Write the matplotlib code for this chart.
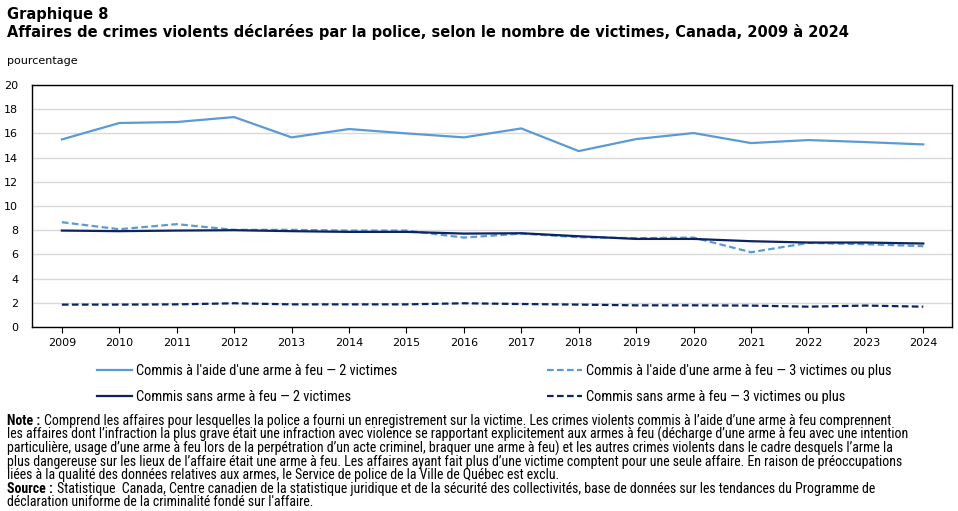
import numpy as np
import matplotlib
matplotlib.use("Agg")
import matplotlib.pyplot as plt

years = list(range(2009, 2025))

arme_2 = [15.5, 16.86, 16.94, 17.35, 15.67, 16.36, 16.0, 15.67,
          16.41, 14.54, 15.53, 16.03, 15.2, 15.45, 15.28, 15.09]
arme_3plus = [8.66, 8.08, 8.5, 8.03, 8.03, 7.97, 7.97, 7.39,
              7.72, 7.42, 7.34, 7.39, 6.18, 6.95, 6.84, 6.68]
sans_2 = [7.97, 7.92, 7.97, 8.0, 7.92, 7.86, 7.86, 7.72,
          7.75, 7.5, 7.28, 7.28, 7.09, 6.98, 6.98, 6.9]
sans_3plus = [1.85, 1.85, 1.87, 1.96, 1.87, 1.87, 1.87, 1.96,
              1.9, 1.85, 1.79, 1.79, 1.77, 1.68, 1.77, 1.68]

labels = ["Commis à l'aide d'une arme à feu — 2 victimes",
          "Commis à l'aide d'une arme à feu — 3 victimes ou plus",
          "Commis sans arme à feu — 2 victimes",
          "Commis sans arme à feu — 3 victimes ou plus"]

note_lines = [
    "Comprend les affaires pour lesquelles la police a fourni un enregistrement sur la victime. Les crimes violents commis à l’aide d’une arme à feu comprennent",
    "les affaires dont l’infraction la plus grave était une infraction avec violence se rapportant explicitement aux armes à feu (décharge d’une arme à feu avec une intention",
    "particulière, usage d’une arme à feu lors de la perpétration d’un acte criminel, braquer une arme à feu) et les autres crimes violents dans le cadre desquels l’arme la",
    "plus dangereuse sur les lieux de l’affaire était une arme à feu. Les affaires ayant fait plus d’une victime comptent pour une seule affaire. En raison de préoccupations",
    "liées à la qualité des données relatives aux armes, le Service de police de la Ville de Québec est exclu.",
]
source_lines = [
    "Statistique  Canada, Centre canadien de la statistique juridique et de la sécurité des collectivités, base de données sur les tendances du Programme de",
    "déclaration uniforme de la criminalité fondé sur l'affaire.",
]

light = "#5b9bd5"
dark = "#0c2461"
narrow = ["Roboto Condensed", "DejaVu Sans"]

W, H = 958, 511
fig = plt.figure(figsize=(W / 100, H / 100), dpi=100)
ax = fig.add_axes([32 / W, 1 - 327 / H, 920 / W, 242 / H])

l1, = ax.plot(years, arme_2, color=light, lw=1.6)
l2, = ax.plot(years, arme_3plus, color=light, lw=1.6, ls=(0, (3, 1.5)))
l3, = ax.plot(years, sans_2, color=dark, lw=1.6)
l4, = ax.plot(years, sans_3plus, color=dark, lw=1.6, ls=(0, (3, 1.5)))

ax.set_xlim(2008.48, 2024.5)
ax.set_ylim(0, 20)
ax.set_yticks(np.arange(0, 21, 2))
ax.set_xticks(years)
ax.grid(axis="y", color="#d9d9d9", lw=1)
ax.set_axisbelow(True)
for s in ax.spines.values():
    s.set_color("black")
    s.set_linewidth(1)
ax.tick_params(axis="y", length=0, pad=10, labelsize=8)
ax.tick_params(axis="x", length=4, pad=4, labelsize=8)

fig.text(7 / W, 1 - 14 / H, "Graphique 8", fontsize=10.5, fontweight="bold",
         family="DejaVu Sans", va="center")
fig.text(7 / W, 1 - 32 / H, "Affaires de crimes violents déclarées par la police, selon le nombre de victimes, Canada, 2009 à 2024",
         fontsize=10.5, fontweight="bold", family="DejaVu Sans", va="center")
fig.text(7 / W, 1 - 61 / H, "pourcentage", fontsize=8, va="center")

leg_kw = dict(loc="upper left", frameon=False, handlelength=2.4, handletextpad=0.3,
              labelspacing=0.8, prop={"family": narrow, "size": 10.4})
fig.legend([l1, l3], [labels[0], labels[2]], bbox_to_anchor=(84 / W, 0.313), **leg_kw)
fig.legend([l2, l4], [labels[1], labels[3]], bbox_to_anchor=(534 / W, 0.313), **leg_kw)

# note and source, one line per text
fs = 10.0
renderer = fig.canvas.get_renderer()
y0, dy = 421, 13.5


def block(label, lines, start):
    lab = fig.text(7 / W, 1 - start / H, label, fontsize=fs, fontweight="bold",
                   family=narrow, va="center")
    x1 = lab.get_window_extent(renderer).x1
    for i, line in enumerate(lines):
        x = (x1 + 4) / W if i == 0 else 7 / W
        fig.text(x, 1 - (start + i * dy) / H, line, fontsize=fs, family=narrow, va="center")


block("Note :", note_lines, y0)
block("Source :", source_lines, y0 + 5 * dy)

fig.savefig("out.png", dpi=100)
